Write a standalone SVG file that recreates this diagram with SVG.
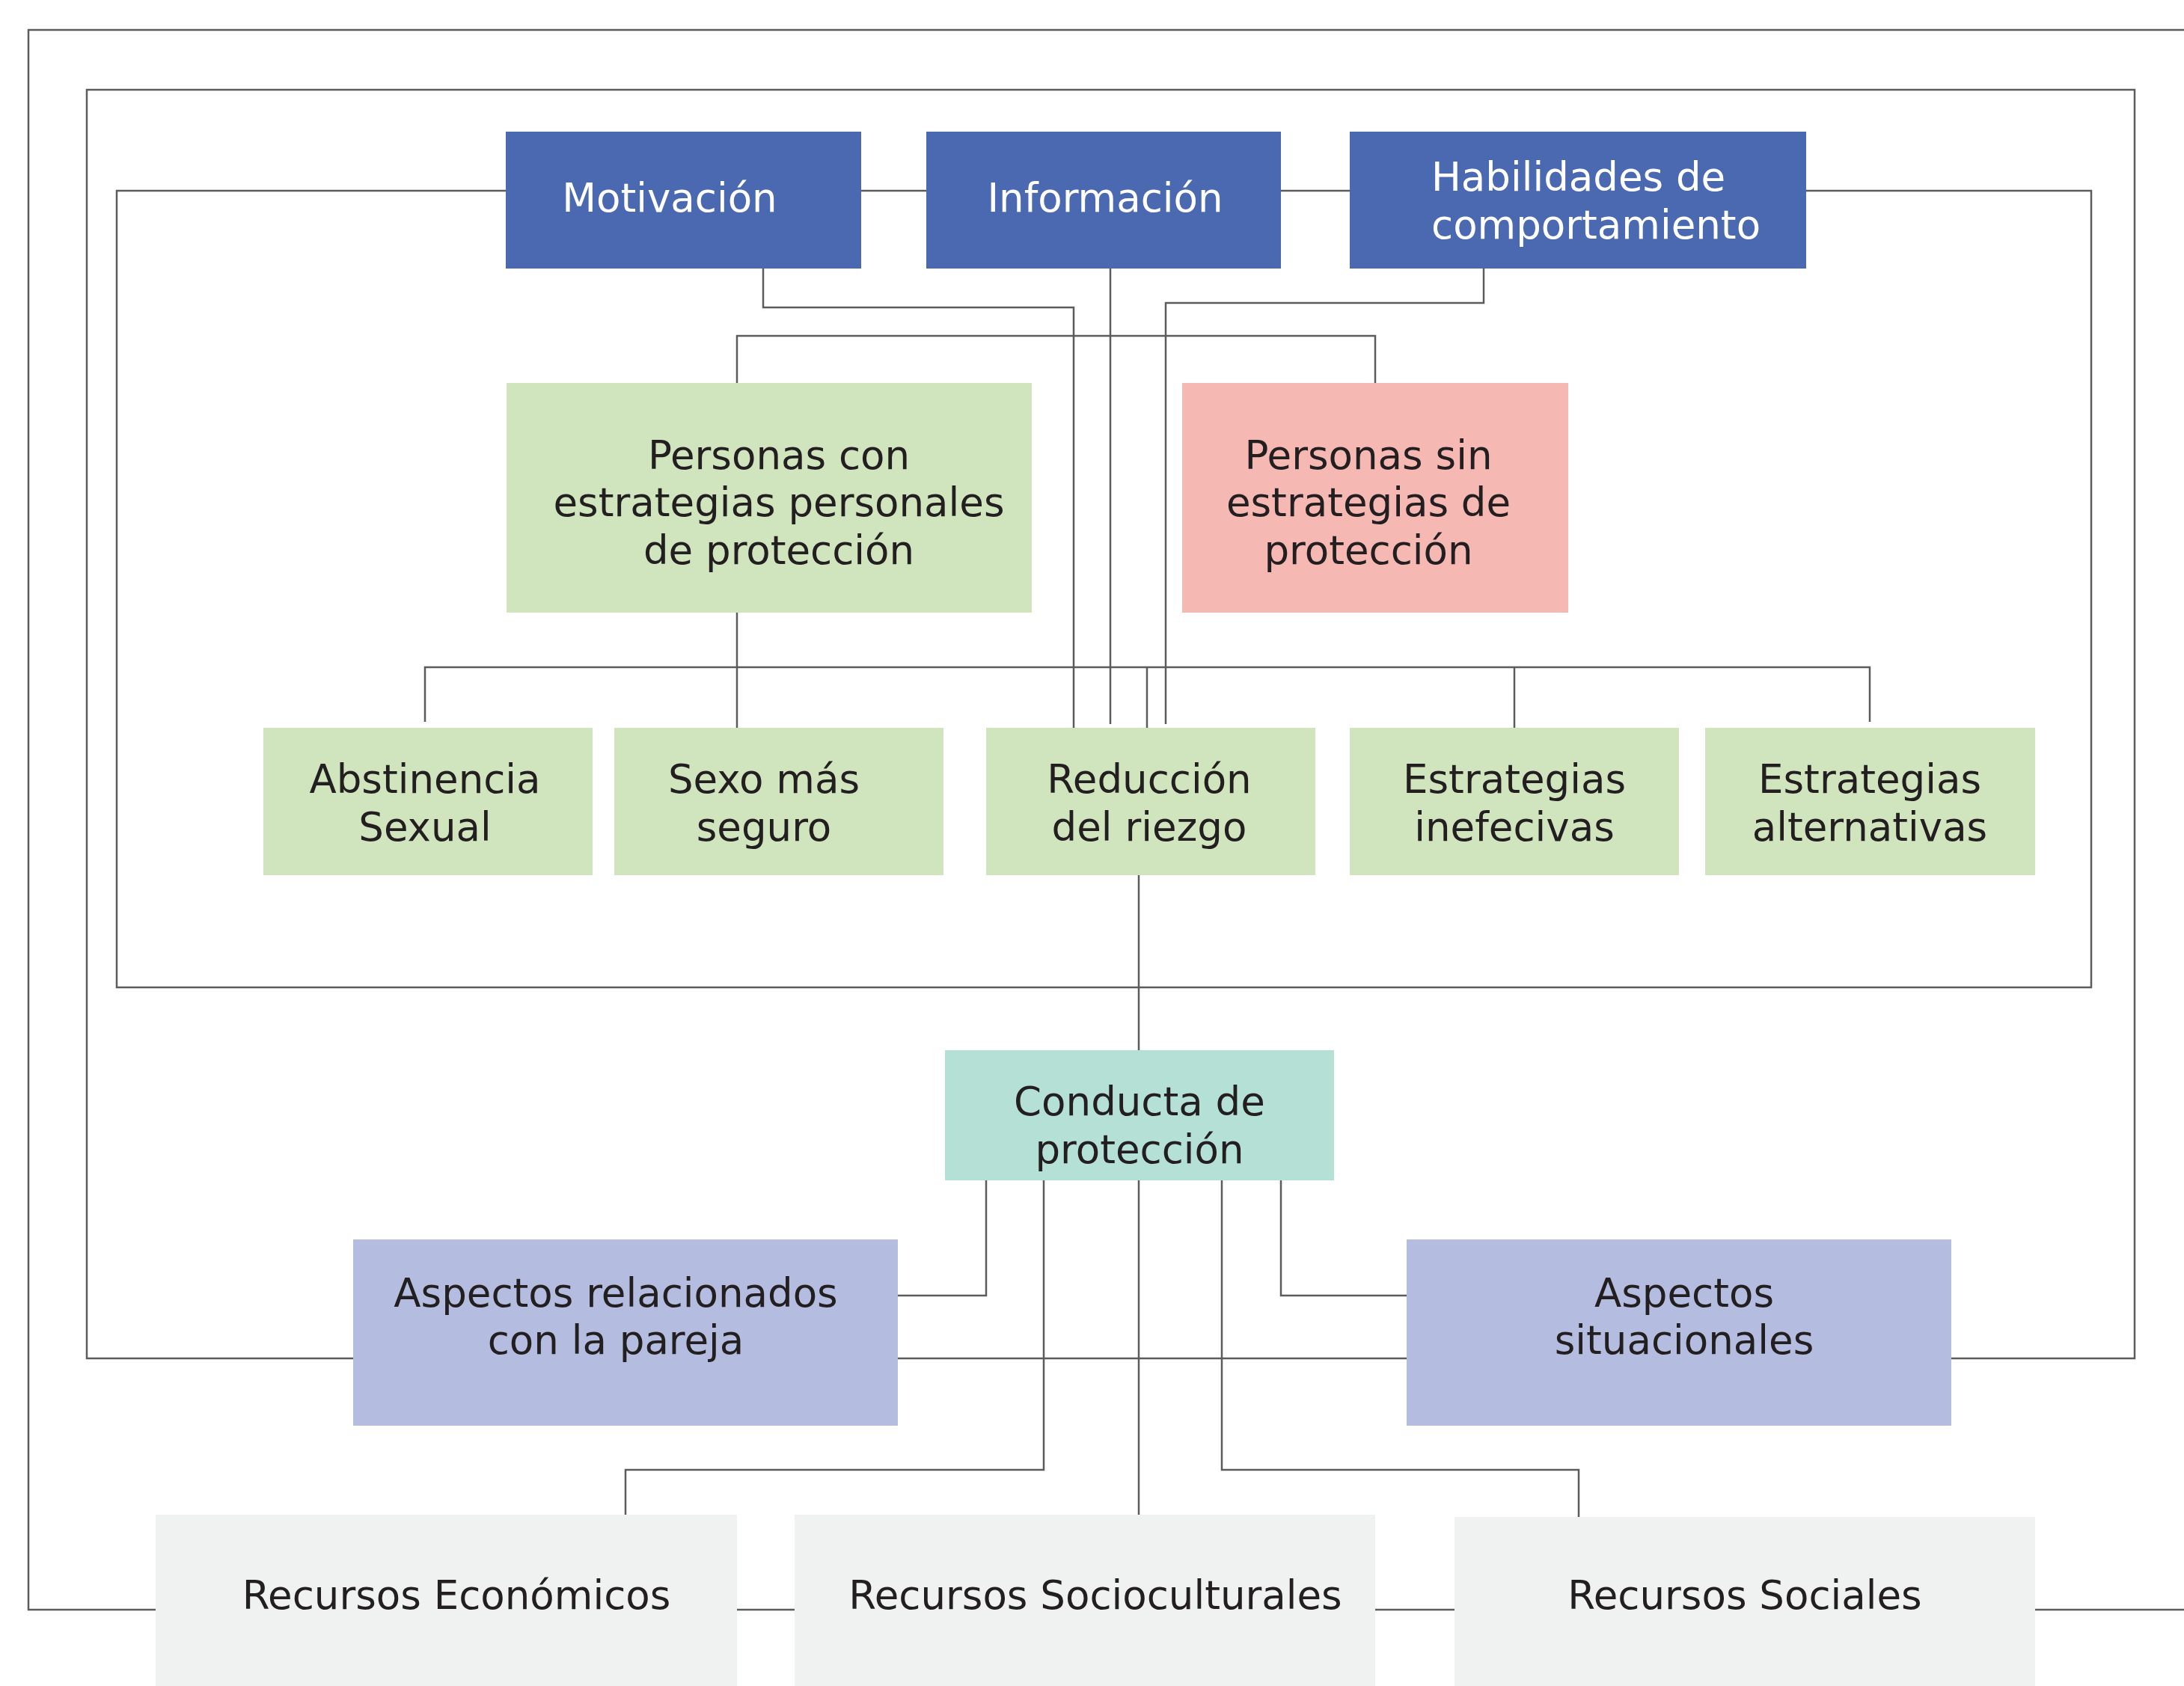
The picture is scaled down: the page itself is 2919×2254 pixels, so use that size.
<svg xmlns="http://www.w3.org/2000/svg" width="2919" height="2254" viewBox="0 0 2919 2254">
<style>
.ln{fill:none;stroke:#5c5c5c;stroke-width:2.5}
.t{font-family:"DejaVu Sans","Liberation Sans",sans-serif;font-size:53px;fill:#231f20;text-anchor:middle}
.w{fill:#ffffff}
.blue{fill:#4a69b0}
.green{fill:#d0e5bd}
.pink{fill:#f6b8b3}
.teal{fill:#b5e0d5}
.lav{fill:#b4bddf}
.gray{fill:#f0f2f1}
</style>
<rect width="2919" height="2254" fill="#ffffff"/>
<g id="frames">
<path class="ln" d="M2919,40 H38 V2152 H2919"/>
<rect class="ln" x="116" y="120" width="2737" height="1696"/>
<rect class="ln" x="156" y="255" width="2639" height="1065"/>
</g>
<g id="connectors">
<path class="ln" d="M1020,359 V411 H1435 V973"/>
<path class="ln" d="M1484,359 V968"/>
<path class="ln" d="M1983,359 V405 H1558 V968"/>
<path class="ln" d="M985,512 V449 H1838 V512"/>
<path class="ln" d="M985,819 V973"/>
<path class="ln" d="M568,965 V892 H2499 V965"/>
<path class="ln" d="M2024,892 V973"/>
<path class="ln" d="M1533,892 V973"/>
<path class="ln" d="M1522,1170 V2025"/>
<path class="ln" d="M1318,1578 V1732 H1200"/>
<path class="ln" d="M1395,1578 V1965 H836 V2025"/>
<path class="ln" d="M1633,1578 V1965 H2110 V2028"/>
<path class="ln" d="M1712,1578 V1732 H1880"/>
</g>
<g id="motivacion">
<rect class="blue" x="676" y="176" width="475" height="183"/>
<text class="t w" x="895" y="283">Motivación</text>
</g>
<g id="informacion">
<rect class="blue" x="1238" y="176" width="474" height="183"/>
<text class="t w" x="1477" y="283">Información</text>
</g>
<g id="habilidades">
<rect class="blue" x="1804" y="176" width="610" height="183"/>
<text class="t w" x="1913" y="255" style="text-anchor:start">Habilidades de</text>
<text class="t w" x="1913" y="319" style="text-anchor:start">comportamiento</text>
</g>
<g id="personas-con">
<rect class="green" x="677" y="512" width="702" height="307"/>
<text class="t" x="1041" y="627">Personas con</text>
<text class="t" x="1041" y="690">estrategias personales</text>
<text class="t" x="1041" y="754">de protección</text>
</g>
<g id="personas-sin">
<rect class="pink" x="1580" y="512" width="516" height="307"/>
<text class="t" x="1829" y="627">Personas sin</text>
<text class="t" x="1829" y="690">estrategias de</text>
<text class="t" x="1829" y="754">protección</text>
</g>
<g id="abstinencia">
<rect class="green" x="352" y="973" width="440" height="197"/>
<text class="t" x="568" y="1060">Abstinencia</text>
<text class="t" x="568" y="1124">Sexual</text>
</g>
<g id="sexo">
<rect class="green" x="821" y="973" width="440" height="197"/>
<text class="t" x="1021" y="1060">Sexo más</text>
<text class="t" x="1021" y="1124">seguro</text>
</g>
<g id="reduccion">
<rect class="green" x="1318" y="973" width="440" height="197"/>
<text class="t" x="1536" y="1060">Reducción</text>
<text class="t" x="1536" y="1124">del riezgo</text>
</g>
<g id="inefecivas">
<rect class="green" x="1804" y="973" width="440" height="197"/>
<text class="t" x="2024" y="1060">Estrategias</text>
<text class="t" x="2024" y="1124">inefecivas</text>
</g>
<g id="alternativas">
<rect class="green" x="2279" y="973" width="441" height="197"/>
<text class="t" x="2499" y="1060">Estrategias</text>
<text class="t" x="2499" y="1124">alternativas</text>
</g>
<g id="conducta">
<rect class="teal" x="1263" y="1404" width="520" height="174"/>
<text class="t" x="1523" y="1491">Conducta de</text>
<text class="t" x="1523" y="1555">protección</text>
</g>
<g id="aspectos-pareja">
<rect class="lav" x="472" y="1657" width="728" height="249"/>
<text class="t" x="823" y="1747">Aspectos relacionados</text>
<text class="t" x="823" y="1810">con la pareja</text>
</g>
<g id="aspectos-situacionales">
<rect class="lav" x="1880" y="1657" width="728" height="249"/>
<text class="t" x="2251" y="1747">Aspectos</text>
<text class="t" x="2251" y="1810">situacionales</text>
</g>
<g id="recursos-economicos">
<rect class="gray" x="208" y="2025" width="777" height="229"/>
<text class="t" x="610" y="2151">Recursos Económicos</text>
</g>
<g id="recursos-socioculturales">
<rect class="gray" x="1062" y="2025" width="776" height="229"/>
<text class="t" x="1464" y="2151">Recursos Socioculturales</text>
</g>
<g id="recursos-sociales">
<rect class="gray" x="1944" y="2028" width="776" height="226"/>
<text class="t" x="2332" y="2151">Recursos Sociales</text>
</g>
</svg>
